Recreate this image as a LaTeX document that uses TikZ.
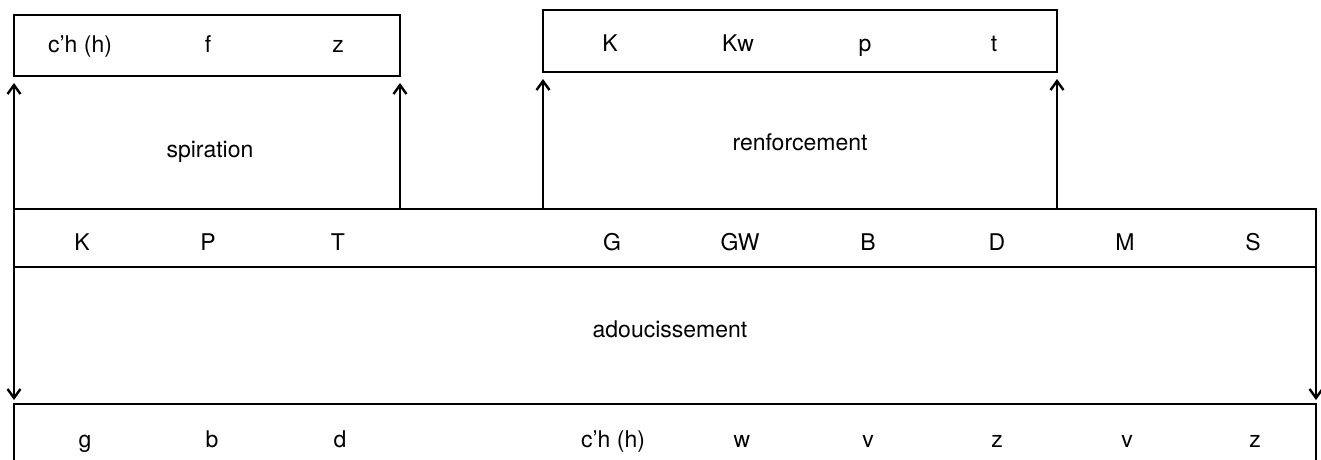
\documentclass[tikz,border=0pt]{standalone}
\usepackage{fontspec}
\setmainfont{TeX Gyre Heros}
\usetikzlibrary{arrows.meta}
\tikzset{
  frame/.style={draw=black, line width=2.8pt, inner sep=0pt, outer sep=0pt, anchor=north west},
  openframe/.style={draw=none, inner sep=0pt, outer sep=0pt, anchor=north west},
  lbl/.style={font=\fontsize{23}{27}\selectfont, anchor=base, inner sep=0pt},
  tip/.style={Straight Barb[length=9pt,width=13pt,line width=2.4pt]},
  link/.style={line width=2.4pt, -{Straight Barb[length=9pt,width=13pt,line width=2.4pt]}},
  dlink/.style={line width=2.4pt, {Straight Barb[length=9pt,width=13pt,line width=2.4pt]}-{Straight Barb[length=9pt,width=13pt,line width=2.4pt]}}
}
\begin{document}
\begin{tikzpicture}[x=1pt,y=-1pt]
\useasboundingbox (0,0) rectangle (1321,459);

% boxes
\node[frame, minimum width=386pt, minimum height=61pt] (tl) at (14,15) {};
\node[frame, minimum width=514pt, minimum height=62pt] (tr) at (543,10) {};
\node[frame, minimum width=1302pt, minimum height=58pt] (mid) at (14,209) {};
\node[openframe, minimum width=1302pt, minimum height=60pt] (bot) at (14,404) {};
\draw[line width=2.8pt] (bot.south west) -- (bot.north west) -- (bot.north east) -- (bot.south east);

% top-left row
\node[lbl] (tl1) at (80,52) {c’h (h)};
\node[lbl] (tl2) at (208,52) {f};
\node[lbl] (tl3) at (338,52) {z};

% top-right row
\node[lbl] (tr1) at (610,51) {K};
\node[lbl] (tr2) at (738,51) {Kw};
\node[lbl] (tr3) at (865,51) {p};
\node[lbl] (tr4) at (994,51) {t};

% middle row
\node[lbl] (m1) at (82,250) {K};
\node[lbl] (m2) at (208,250) {P};
\node[lbl] (m3) at (338,250) {T};
\node[lbl] (m4) at (612,250) {G};
\node[lbl] (m5) at (740,250) {GW};
\node[lbl] (m6) at (868,250) {B};
\node[lbl] (m7) at (997,250) {D};
\node[lbl] (m8) at (1125,250) {M};
\node[lbl] (m9) at (1253,250) {S};

% bottom row
\node[lbl] (b1) at (85,447) {g};
\node[lbl] (b2) at (212,447) {b};
\node[lbl] (b3) at (340,447) {d};
\node[lbl] (b4) at (613,447) {c’h (h)};
\node[lbl] (b5) at (742,447) {w};
\node[lbl] (b6) at (868,447) {v};
\node[lbl] (b7) at (997,447) {z};
\node[lbl] (b8) at (1127,447) {v};
\node[lbl] (b9) at (1255,447) {z};

% process labels
\node[lbl] (spi) at (210,157) {spiration};
\node[lbl] (ren) at (800,150) {renforcement};
\node[lbl] (ado) at (670,337) {adoucissement};

% connectors
\draw[dlink, shorten <=7pt, shorten >=4pt] (tl.south west) -- (tl.south west |- bot.north);
\draw[link, shorten >=7pt] (mid.north -| tl.south east) -- (tl.south east);
\draw[link, shorten >=7pt] (mid.north -| tr.south west) -- (tr.south west);
\draw[link, shorten >=7pt] (mid.north -| tr.south east) -- (tr.south east);
\draw[link, shorten >=4pt] (mid.south east) -- (bot.north east);
\end{tikzpicture}
\end{document}
